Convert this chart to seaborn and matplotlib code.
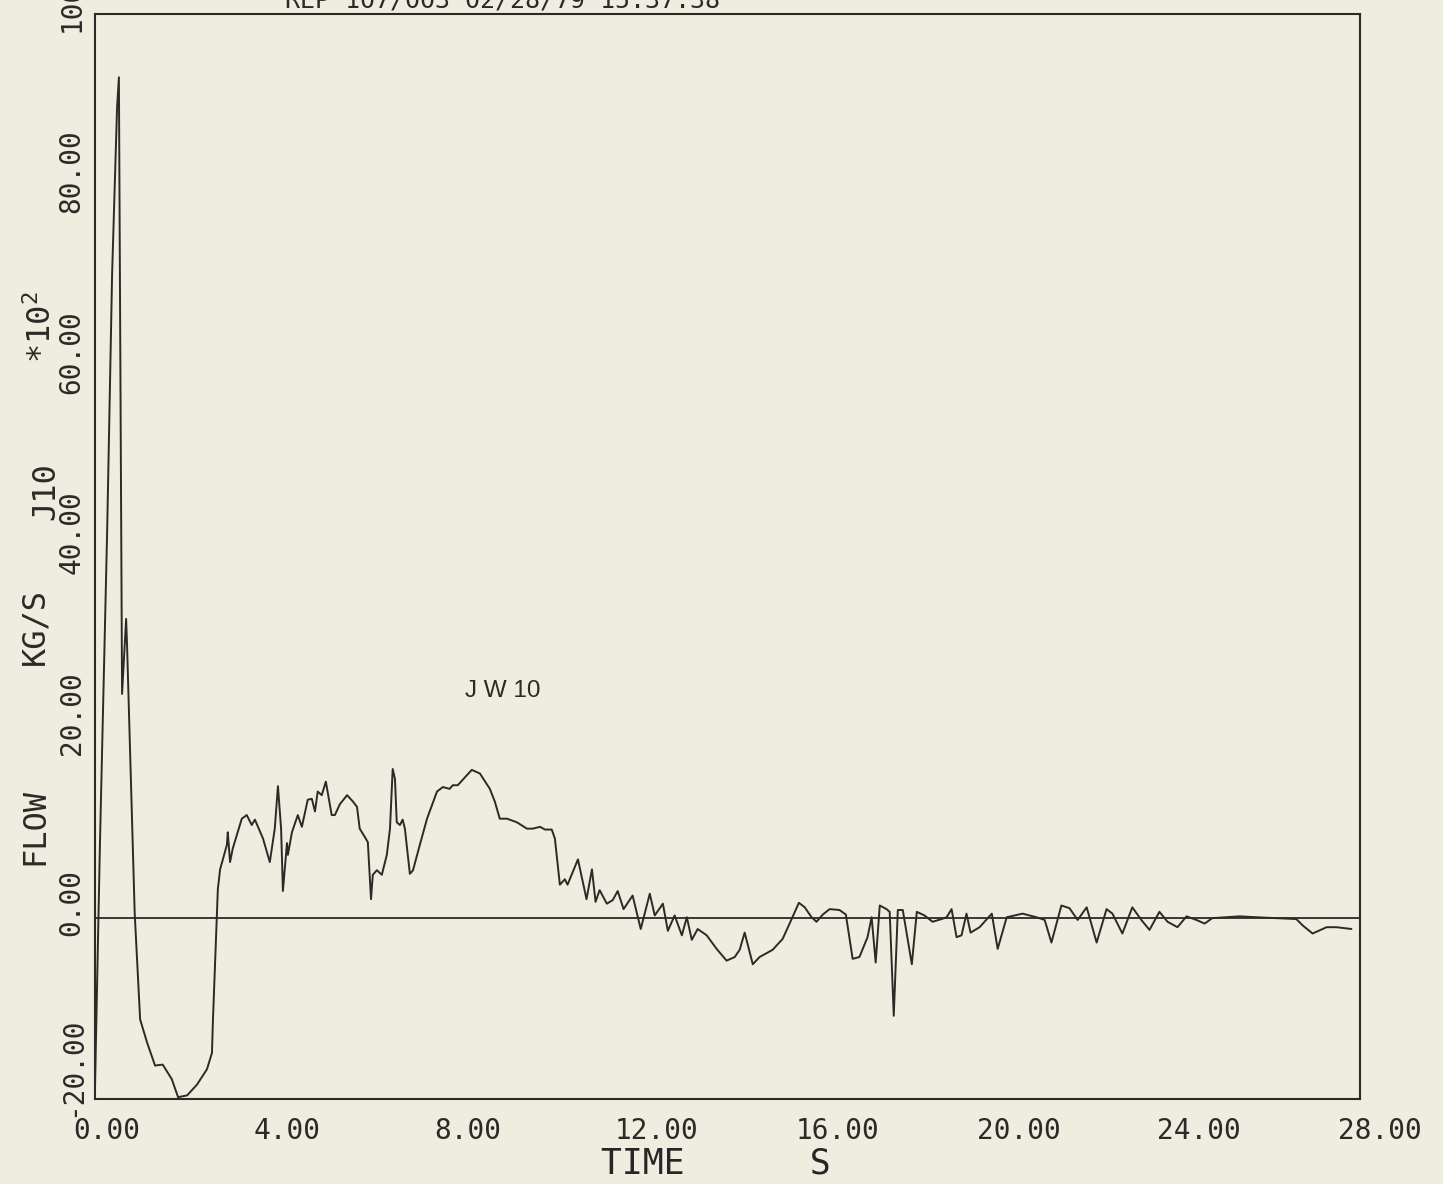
import matplotlib
matplotlib.use("Agg")
import matplotlib.pyplot as plt
import matplotlib.transforms as mtransforms
import seaborn as sns

# flow trace J10 (time in s, flow in kg/s * 10^2)
time_s = [
    0.00, 0.11, 0.27, 0.38, 0.49, 0.53, 0.60, 0.69, 0.71, 0.88,
    1.00, 1.15, 1.33, 1.50, 1.70, 1.84, 2.04, 2.26, 2.48, 2.59,
    2.61, 2.70, 2.72, 2.77, 2.92, 2.94, 2.99, 3.05, 3.25, 3.36,
    3.47, 3.54, 3.72, 3.87, 3.98, 4.05, 4.12, 4.16, 4.25, 4.27,
    4.36, 4.49, 4.58, 4.71, 4.80, 4.87, 4.93, 5.02, 5.11, 5.24,
    5.31, 5.42, 5.58, 5.71, 5.80, 5.86, 5.97, 6.04, 6.08, 6.11,
    6.15, 6.24, 6.35, 6.46, 6.53, 6.59, 6.64, 6.68, 6.75, 6.81,
    6.86, 6.97, 7.04, 7.19, 7.35, 7.57, 7.70, 7.85, 7.92, 8.03,
    8.34, 8.52, 8.74, 8.85, 8.96, 9.12, 9.34, 9.56, 9.69, 9.85,
    9.96, 10.11, 10.18, 10.29, 10.40, 10.46, 10.69, 10.88, 11.00, 11.08,
    11.17, 11.33, 11.46, 11.57, 11.70, 11.90, 12.08, 12.28, 12.39, 12.57,
    12.68, 12.83, 12.99, 13.10, 13.21, 13.34, 13.54, 13.76, 13.98, 14.16,
    14.27, 14.38, 14.56, 14.71, 15.00, 15.22, 15.42, 15.58, 15.71, 15.86,
    15.97, 16.11, 16.26, 16.48, 16.62, 16.77, 16.92, 17.10, 17.19, 17.28,
    17.37, 17.52, 17.59, 17.68, 17.77, 17.88, 18.08, 18.19, 18.36, 18.54,
    18.74, 18.85, 18.96, 19.07, 19.18, 19.29, 19.38, 19.58, 19.85, 19.98,
    20.18, 20.53, 20.84, 21.02, 21.17, 21.39, 21.57, 21.75, 21.95, 22.17,
    22.39, 22.52, 22.74, 22.96, 23.16, 23.34, 23.56, 23.74, 23.96, 24.16,
    24.38, 24.56, 24.73, 25.04, 25.33, 25.71, 26.15, 26.59, 26.73, 26.95,
    27.26, 27.48, 27.81,
]
flow = [
    -19.0, 8.1, 42.8, 71.3, 89.7, 93.0, 24.8, 33.1, 30.3, 0.5,
    -11.2, -13.7, -16.3, -16.2, -17.8, -19.8, -19.6, -18.4, -16.7, -14.9,
    -11.5, 0.7, 3.2, 5.4, 8.1, 9.5, 6.2, 7.7, 11.0, 11.4,
    10.3, 10.9, 8.8, 6.2, 9.9, 14.6, 9.9, 3.0, 8.3, 7.0,
    9.5, 11.4, 10.1, 13.1, 13.2, 11.8, 14.0, 13.6, 15.1, 11.4,
    11.4, 12.6, 13.6, 12.9, 12.3, 9.9, 9.0, 8.4, 4.8, 2.1,
    4.8, 5.3, 4.8, 7.0, 9.9, 16.5, 15.4, 10.6, 10.3, 10.9,
    9.9, 4.9, 5.3, 8.1, 11.0, 14.0, 14.5, 14.3, 14.7, 14.7,
    16.4, 16.0, 14.3, 12.9, 11.0, 11.0, 10.6, 9.9, 9.9, 10.1,
    9.8, 9.8, 8.8, 3.7, 4.3, 3.7, 6.5, 2.1, 5.4, 1.8,
    3.1, 1.6, 2.0, 3.0, 1.0, 2.5, -1.2, 2.7, 0.3, 1.6,
    -1.4, 0.3, -1.9, 0.1, -2.4, -1.2, -1.9, -3.4, -4.7, -4.3,
    -3.5, -1.6, -5.1, -4.3, -3.5, -2.3, -0.1, 1.7, 1.2, 0.1,
    -0.4, 0.4, 1.0, 0.9, 0.4, -4.5, -4.3, -2.1, 0.1, -4.9,
    1.4, 1.0, 0.7, -10.8, 0.9, 0.9, -5.1, 0.7, 0.3, -0.4,
    -0.1, 0.1, 1.0, -2.1, -1.9, 0.5, -1.6, -1.0, 0.5, -3.4,
    0.1, 0.5, 0.1, -0.2, -2.7, 1.4, 1.1, -0.2, 1.2, -2.7,
    1.0, 0.5, -1.7, 1.2, -0.2, -1.3, 0.7, -0.4, -1.0, 0.2,
    -0.2, -0.6, 0.0, 0.1, 0.2, 0.1, 0.0, -0.1, -0.8, -1.7,
    -1.0, -1.0, -1.2,
]

x_ticks = [0, 4, 8, 12, 16, 20, 24, 28]
x_labels = ["0.00", "4.00", "8.00", "12.00", "16.00", "20.00", "24.00", "28.00"]
y_ticks = [-20, 0, 20, 40, 60, 80, 100]
y_labels = ["-20.00", "0.00", "20.00", "40.00", "60.00", "80.00", "100.00"]

title_text = "REP 107/003 02/28/79 15:37:38"
curve_label = "J W 10"

paper = "#efede0"
ink = "#2b2a26"

sns.set_style("white", rc={"axes.facecolor": paper, "figure.facecolor": paper,
                           "axes.edgecolor": ink, "text.color": ink,
                           "xtick.color": ink, "ytick.color": ink})
plt.rcParams["font.family"] = ["DejaVu Sans Mono", "DejaVu Sans"]
plt.rcParams["mathtext.default"] = "regular"

fig = plt.figure(figsize=(14.43, 11.84), dpi=100)
ax = fig.add_axes([0.0658, 0.0718, 0.8767, 0.9164])

sns.lineplot(x=time_s, y=flow, sort=False, estimator=None, color=ink, lw=1.4, ax=ax)
ax.axhline(0, color=ink, lw=1.3)

ax.set_xlim(0, 28)
ax.set_ylim(-20, 100)
for sp in ax.spines.values():
    sp.set_linewidth(1.5)
    sp.set_color(ink)

ax.tick_params(axis="x", direction="out", length=13, width=1.2, pad=0, labelsize=20)
ax.tick_params(axis="y", direction="out", length=10, width=1.2, pad=1, labelsize=20)
ax.set_xticks(x_ticks)
ax.set_xticklabels(x_labels, ha="left")
ax.set_yticks(y_ticks)
ax.set_yticklabels(y_labels, rotation=90, rotation_mode="anchor", ha="left", va="baseline")

# plotter offsets: labels start a little before / below their tick
dx = mtransforms.ScaledTranslation(-22 / 100, 0, fig.dpi_scale_trans)
for lab in ax.get_xticklabels():
    lab.set_transform(lab.get_transform() + dx)
dy = mtransforms.ScaledTranslation(0, -18 / 100, fig.dpi_scale_trans)
for lab in ax.get_yticklabels():
    lab.set_transform(lab.get_transform() + dy)

ax.set_xlabel("TIME      S", fontsize=25)
ax.xaxis.set_label_coords(0.491, -0.044)
ax.set_ylabel("")

# y axis title pieces, written the way the plotter laid them out
ylab_kw = dict(rotation=90, rotation_mode="anchor", ha="left", va="center", fontsize=23)
fig.text(0.0243, 0.2694, "FLOW", **ylab_kw)
fig.text(0.0243, 0.4383, "KG/S", **ylab_kw)
fig.text(0.0315, 0.5608, "J10", **ylab_kw)
fig.text(0.0290, 0.6934, "*10$^2$", **ylab_kw)

ax.text(8.19, 24.5, curve_label, fontsize=17.5, family="Liberation Sans", va="baseline")

# header line, cut off by the top edge of the scan
fig.text(0.1975, 1 - 7 / 1184, title_text, fontsize=18, va="baseline", ha="left")

fig.savefig("out.png", dpi=100, facecolor=paper)
